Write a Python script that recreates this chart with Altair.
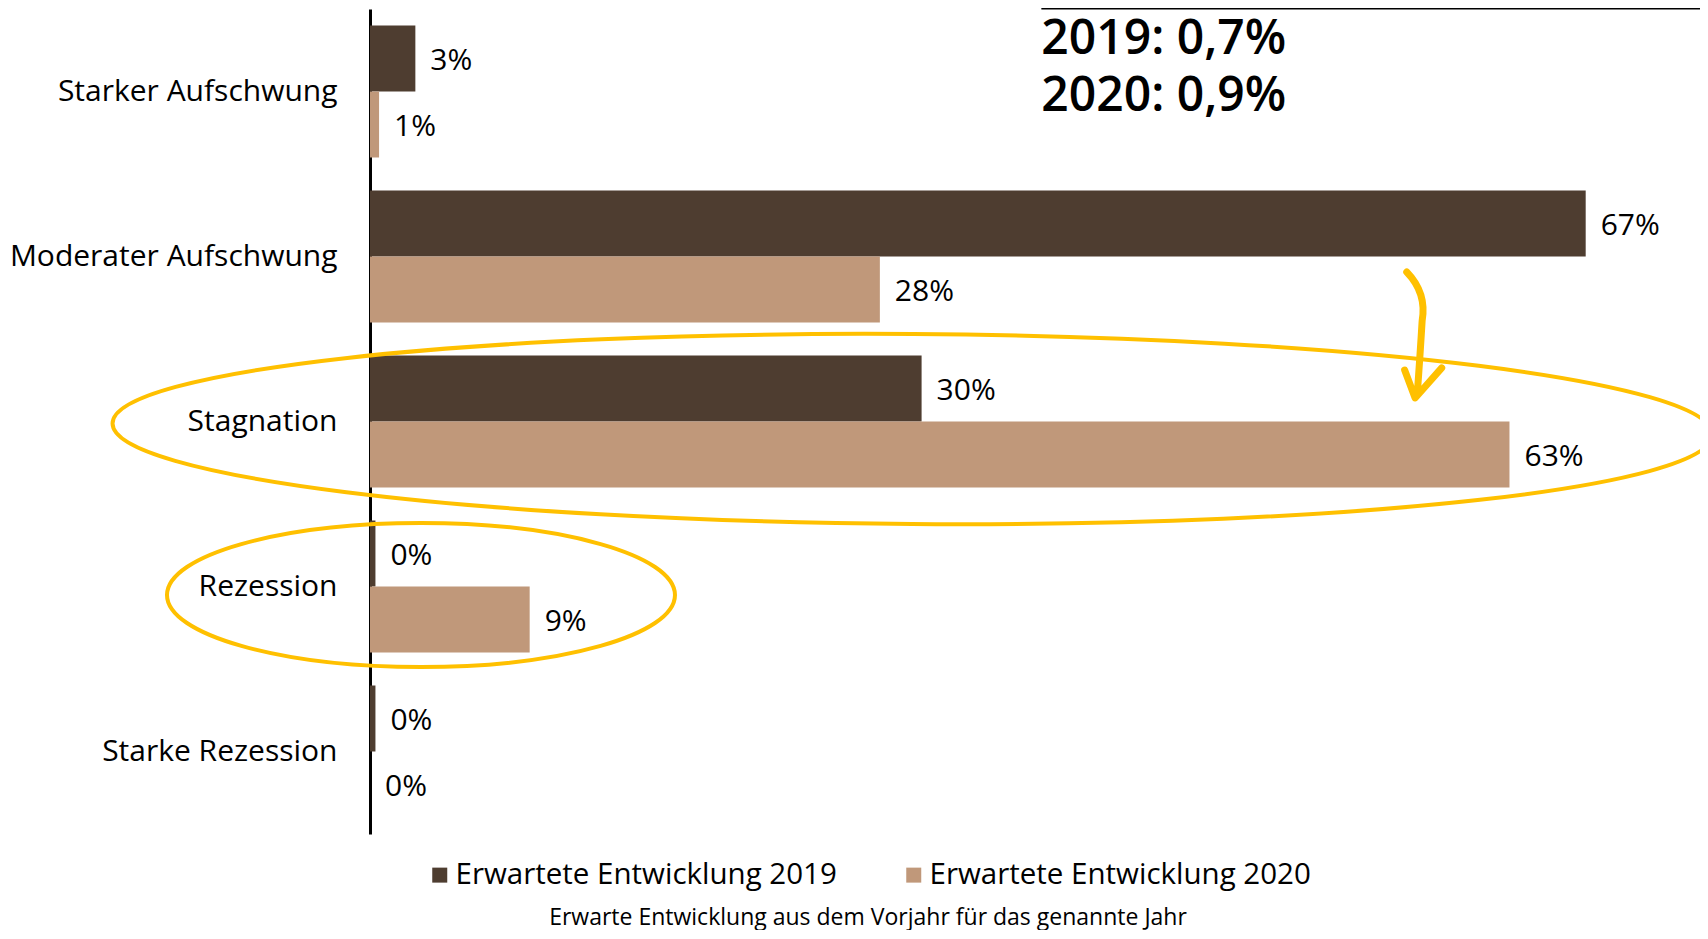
import altair as alt
import pandas as pd

# ---------------- data ----------------
categories = ["Starker Aufschwung", "Moderater Aufschwung", "Stagnation", "Rezession", "Starke Rezession"]
series = ["Erwartete Entwicklung 2019", "Erwartete Entwicklung 2020"]
values_2019 = [2.5, 67.0, 30.4, 0.3, 0.3]
values_2020 = [0.5, 28.1, 62.8, 8.8, 0.0]
labels_2019 = ["3%", "67%", "30%", "0%", "0%"]
labels_2020 = ["1%", "28%", "63%", "9%", "0%"]
colors = ["#4e3d30", "#c0987a"]
note_lines = ["2019: 0,7%", "2020: 0,9%"]
subtitle = "Erwarte Entwicklung aus dem Vorjahr für das genannte Jahr"

FONT = "Open Sans"
YELLOW = "#ffc000"

rows = []
for s, vals, labs in [(series[0], values_2019, labels_2019), (series[1], values_2020, labels_2020)]:
    for c, v, l in zip(categories, vals, labs):
        rows.append({"Kategorie": c, "Serie": s, "Wert": v, "Label": l})
df = pd.DataFrame(rows)

x_scale = alt.Scale(domain=[0, 73.3], nice=False, zero=True)
y_scale = alt.Scale(domain=categories, paddingInner=0.2, paddingOuter=0.1)

y_axis = alt.Axis(
    title=None, labelFontSize=30, labelFont=FONT, labelColor="black",
    labelPadding=33, ticks=False, domain=True, domainColor="black",
    domainWidth=3, grid=False, labelLimit=600,
)


def xy():
    return dict(
        x=alt.X("Wert:Q", scale=x_scale, axis=None),
        y=alt.Y("Kategorie:N", sort=categories, scale=y_scale, axis=y_axis),
    )


yoff = alt.YOffset("Serie:N", sort=series, scale=alt.Scale(domain=series, paddingInner=0, paddingOuter=0))

base = alt.Chart(df)

bars = base.mark_bar().encode(
    **xy(),
    yOffset=yoff,
    color=alt.Color(
        "Serie:N",
        scale=alt.Scale(domain=series, range=colors),
        legend=alt.Legend(
            title=subtitle, titleOrient="bottom", titleAnchor="middle",
            titleFontSize=23, titleFont=FONT, titleFontWeight="normal",
            titleColor="black", titlePadding=17, titleLimit=1200,
            orient="none", legendX=55, legendY=851, direction="horizontal",
            symbolType="square", symbolSize=225, symbolStrokeWidth=0,
            labelFontSize=29.5, labelFont=FONT, labelColor="black",
            labelOffset=1, columnPadding=62, labelLimit=600,
        ),
    ),
)

value_text = base.mark_text(align="left", baseline="middle", dx=15, dy=2, fontSize=30, font=FONT, color="black").encode(
    **xy(),
    yOffset=yoff,
    text="Label:N",
)


def ellipse_path(b, k=0.5523):
    kb = k * b
    return (
        f"M -1 0 C -1 {-kb:.4f} {-k} {-b:.4f} 0 {-b:.4f} "
        f"C {k} {-b:.4f} 1 {-kb:.4f} 1 0 "
        f"C 1 {kb:.4f} {k} {b:.4f} 0 {b:.4f} "
        f"C {-k} {b:.4f} -1 {kb:.4f} -1 0 Z"
    )


# annotation ellipses (centre in data coordinates, radii in pixels)
ell_big = alt.Chart(pd.DataFrame({"Wert": [29.9], "Kategorie": ["Stagnation"]})).mark_point(
    shape=ellipse_path(95 / 800), size=(2 * 800) ** 2, filled=False,
    stroke=YELLOW, strokeWidth=4, yOffset=7.5, angle=0.4, opacity=1,
).encode(**xy())

ell_small = alt.Chart(pd.DataFrame({"Wert": [2.81], "Kategorie": ["Rezession"]})).mark_point(
    shape=ellipse_path(72 / 254), size=(2 * 254) ** 2, filled=False,
    stroke=YELLOW, strokeWidth=4, yOffset=8.5, opacity=1,
).encode(**xy())

arrow_path = "M -0.19 -0.9 Q 0.1 -0.6 0.03 -0.2 Q 0 0.3 -0.04 0.85 M -0.22 0.5 L -0.07 0.9 L 0.31 0.47"
arrow = alt.Chart(pd.DataFrame({"Wert": [57.87], "Kategorie": ["Moderater Aufschwung"]})).mark_point(
    shape=arrow_path, size=140 ** 2, filled=False, stroke=YELLOW, strokeWidth=7,
    strokeCap="round", strokeJoin="round", yOffset=78.5, opacity=1,
).encode(**xy())

# top-right note
note1 = alt.Chart(pd.DataFrame({"Wert": [37.0], "Zeile": [note_lines[0]]})).mark_text(
    align="left", baseline="middle", fontSize=48, font=FONT, fontWeight=600, color="black"
).encode(x=alt.X("Wert:Q", scale=x_scale, axis=None), y=alt.value(31), text="Zeile:N")
note2 = alt.Chart(pd.DataFrame({"Wert": [37.0], "Zeile": [note_lines[1]]})).mark_text(
    align="left", baseline="middle", fontSize=48, font=FONT, fontWeight=600, color="black"
).encode(x=alt.X("Wert:Q", scale=x_scale, axis=None), y=alt.value(88), text="Zeile:N")

top_rule = alt.Chart(pd.DataFrame({"Wert": [37.0], "Ende": [73.3]})).mark_rule(
    color="black", strokeWidth=3
).encode(x=alt.X("Wert:Q", scale=x_scale, axis=None), x2="Ende:Q", y=alt.value(-1))

chart = (
    alt.layer(bars, value_text, ell_big, ell_small, arrow, note1, note2, top_rule)
    .properties(
        width=1330,
        height=825,
        background="white",
        autosize=alt.AutoSizeParams(type="none"),
        padding={"left": 362, "top": 1, "right": 0, "bottom": 96},
    )
    .configure_view(strokeWidth=0, stroke="transparent")
)

chart.save("out.html", embed_options={"renderer": "svg", "actions": False})
